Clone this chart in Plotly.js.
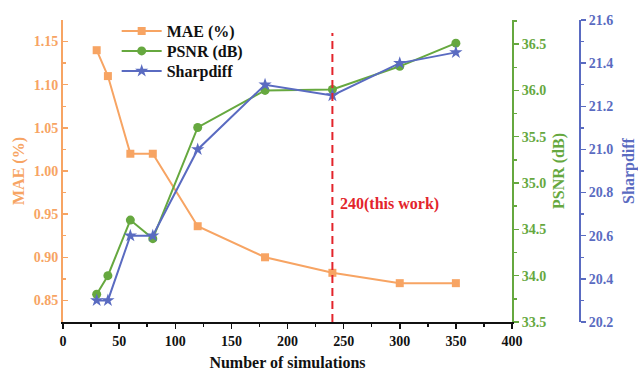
<!DOCTYPE html>
<html><head><meta charset="utf-8">
<script src="https://cdn.plot.ly/plotly-3.0.1.min.js"></script>
<style>html,body{margin:0;padding:0;background:#fff}#chart{width:638px;height:371px}</style>
</head><body><div id="chart"></div>
<script>
const simulations = [30, 40, 60, 80, 120, 180, 240, 300, 350];
const maeValues = [1.14, 1.11, 1.02, 1.02, 0.936, 0.90, 0.882, 0.87, 0.87];
const psnrValues = [33.80, 34.00, 34.60, 34.40, 35.60, 36.00, 36.01, 36.26, 36.51];
const sharpdiffValues = [20.30, 20.30, 20.60, 20.60, 21.00, 21.30, 21.25, 21.40, 21.45];
const seriesNames = ['MAE (%)', 'PSNR (dB)', 'Sharpdiff'];
const chosenSimulations = 240;
const chosenLabel = '240(this work)';

const ORANGE = '#F7A463', GREEN = '#66A83F', BLUE = '#5A6BC1', RED = '#E3242B';
const FONT = 'Liberation Serif';

const traces = [
  {x: simulations, y: maeValues, name: seriesNames[0], yaxis: 'y', legend: 'legend', mode: 'lines+markers',
   line: {color: ORANGE, width: 2}, marker: {symbol: 'square', size: 8, color: ORANGE}},
  {x: simulations, y: psnrValues, name: seriesNames[1], yaxis: 'y2', legend: 'legend2', mode: 'lines+markers',
   line: {color: GREEN, width: 2}, marker: {symbol: 'circle', size: 9, color: GREEN}},
  {x: simulations, y: sharpdiffValues, name: seriesNames[2], yaxis: 'y3', legend: 'legend3', mode: 'lines+markers',
   line: {color: BLUE, width: 2}, marker: {symbol: 'star', size: 10, color: BLUE}}
];

const tickFont = (c) => ({family: FONT, size: 14, color: c, weight: 'bold'});
const legendBox = (yc) => ({x: 0.095, y: yc, xanchor: 'left', yanchor: 'middle', bgcolor: 'rgba(0,0,0,0)',
    font: {family: FONT, size: 16, color: '#111', weight: 'bold'}, itemwidth: 40});
const layout = {
  width: 638, height: 371,
  margin: {l: 63, r: 10, t: 20, b: 49},
  paper_bgcolor: '#fff', plot_bgcolor: '#fff',
  font: {family: FONT},
  showlegend: true,
  legend: legendBox(0.9636),
  legend2: legendBox(0.8974),
  legend3: legendBox(0.831),
  xaxis: {domain: [0, 0.7947], range: [0, 400], dtick: 50, showgrid: false, zeroline: false,
    showline: true, linecolor: '#111', linewidth: 2, ticks: 'outside', ticklen: 5, tickwidth: 1.5, tickcolor: '#111',
    minor: {dtick: 25, ticks: 'outside', ticklen: 3, tickcolor: '#111'},
    tickfont: tickFont('#111'),
    title: {text: 'Number of simulations', font: {family: FONT, size: 16, color: '#111', weight: 'bold'}, standoff: 12}},
  yaxis: {range: [0.825, 1.175], dtick: 0.05, tickformat: '.2f', showgrid: false, zeroline: false,
    showline: true, linecolor: ORANGE, linewidth: 2, ticks: 'inside', ticklen: 5, tickwidth: 1.5, tickcolor: ORANGE,
    minor: {dtick: 0.025, ticks: 'inside', ticklen: 3, tickcolor: ORANGE},
    tickfont: tickFont(ORANGE),
    title: {text: seriesNames[0], font: {family: FONT, size: 16, color: ORANGE, weight: 'bold'}, standoff: 5}},
  yaxis2: {overlaying: 'y', side: 'right', anchor: 'x', range: [33.5, 36.76], dtick: 0.5, tickformat: '.1f',
    showgrid: false, zeroline: false, showline: true, linecolor: GREEN, linewidth: 2,
    ticks: 'outside', ticklen: 5, tickwidth: 1.5, tickcolor: GREEN,
    minor: {dtick: 0.25, ticks: 'outside', ticklen: 3, tickcolor: GREEN},
    tickfont: tickFont(GREEN),
    title: {text: seriesNames[1], font: {family: FONT, size: 16, color: GREEN, weight: 'bold'}, standoff: 7}},
  yaxis3: {overlaying: 'y', side: 'right', anchor: 'free', position: 0.915, range: [20.2, 21.6], dtick: 0.2, tickformat: '.1f',
    showgrid: false, zeroline: false, showline: true, linecolor: BLUE, linewidth: 2,
    ticks: 'outside', ticklen: 5, tickwidth: 1.5, tickcolor: BLUE,
    minor: {dtick: 0.1, ticks: 'outside', ticklen: 3, tickcolor: BLUE},
    tickfont: tickFont(BLUE),
    title: {text: seriesNames[2], font: {family: FONT, size: 16, color: BLUE, weight: 'bold'}, standoff: 10}},
  shapes: [{type: 'line', xref: 'x', yref: 'paper', x0: chosenSimulations, x1: chosenSimulations, y0: 0, y1: 0.957,
    line: {color: RED, width: 2, dash: '8px,5px'}}],
  annotations: [{xref: 'x', yref: 'paper', x: chosenSimulations, y: 0.39, xanchor: 'left', yanchor: 'middle', xshift: 6,
    text: chosenLabel, showarrow: false, font: {family: FONT, size: 16, color: RED, weight: 'bold'}}]
};

Plotly.newPlot('chart', traces, layout, {displayModeBar: false, staticPlot: true});
</script>
</body></html>
